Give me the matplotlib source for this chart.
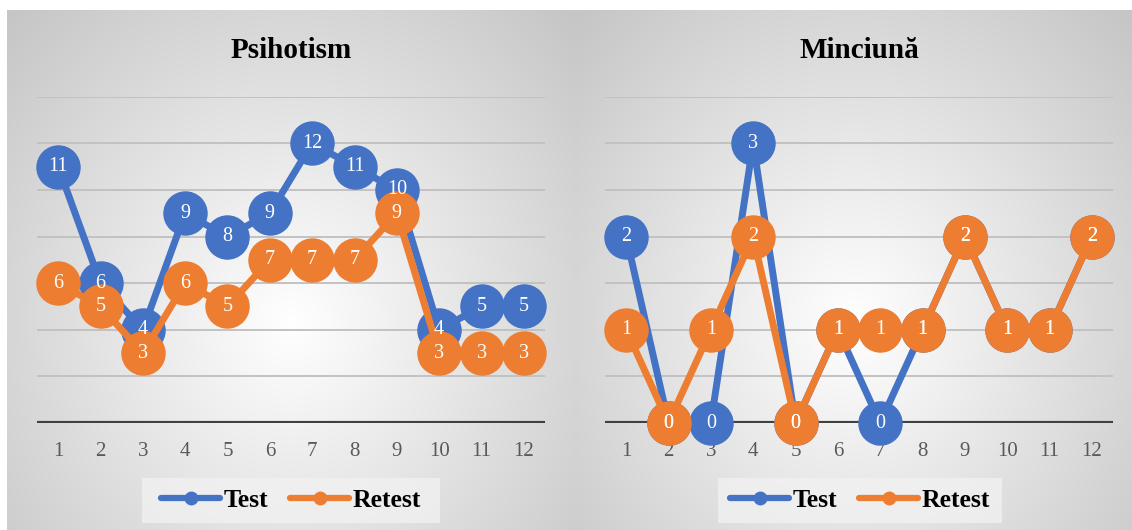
import numpy as np
import matplotlib
matplotlib.use("Agg")
import matplotlib.pyplot as plt
from matplotlib.lines import Line2D
from matplotlib.patches import Rectangle

# ---- data ----
categories = [str(i) for i in range(1, 13)]
series_names = ["Test", "Retest"]
titles = ["Psihotism", "Minciună"]
psihotism_test = [11, 6, 4, 9, 8, 9, 12, 11, 10, 4, 5, 5]
psihotism_retest = [6, 5, 3, 6, 5, 7, 7, 7, 9, 3, 3, 3]
minciuna_test = [2, 0, 0, 3, 0, 1, 0, 1, 2, 1, 1, 2]
minciuna_retest = [1, 0, 1, 2, 0, 1, 1, 1, 2, 1, 1, 2]

BLUE = "#4472C4"
ORANGE = "#ED7D31"
SERIF = ["Liberation Serif", "DejaVu Serif"]

W, H = 1132, 530
fig = plt.figure(figsize=(W / 100, H / 100), dpi=100)
fig.patch.set_facecolor("white")


def px_rect(x0, y0, x1, y1):
    return [x0 / W, 1 - y1 / H, (x1 - x0) / W, (y1 - y0) / H]


def panel_background(x0, y0, x1, y1):
    """Radial grey-to-white fill behind one chart."""
    ax = fig.add_axes(px_rect(x0, y0, x1, y1), zorder=0)
    w, h = x1 - x0, y1 - y0
    X, Y = np.meshgrid(np.arange(w) + 0.5, np.arange(h) + 0.5)
    cx, cy = w * 0.5, h * 0.6
    d = np.sqrt(((X - cx) / (w * 0.5)) ** 2 + ((Y - cy) / (h * 0.6)) ** 2) / np.sqrt(2)
    d = np.clip(d, 0, 1)
    c = (255 - 58 * d) / 255.0
    ax.imshow(np.dstack([c, c, c]), aspect="auto", interpolation="bilinear",
              extent=[0, 1, 0, 1], origin="upper")
    ax.set_axis_off()


def draw_chart(plot_px, title, title_x, legend_box, test, retest, ymax, ystep):
    ax = fig.add_axes(px_rect(*plot_px), zorder=2)
    ax.patch.set_alpha(0)
    x = np.arange(1, len(categories) + 1)
    ax.set_xlim(0.5, len(categories) + 0.5)
    ax.set_ylim(0, ymax)

    for gy in np.arange(ystep, ymax + ystep / 2, ystep):
        ax.axhline(gy, color="#c2c2c2", lw=1.4, zorder=1)
    ax.axhline(0, color="#404040", lw=3.0, zorder=2)

    for vals, col, z in ((test, BLUE, 3), (retest, ORANGE, 4)):
        ax.plot(x, vals, color=col, lw=5, marker="o", markersize=32,
                markeredgewidth=0, solid_capstyle="round", zorder=z, clip_on=False)
    for vals in (test, retest):
        for xi, v in zip(x, vals):
            ax.text(xi, v, str(v), ha="center", va="center", color="white",
                    fontsize=14.5, family=SERIF, zorder=10, clip_on=False)

    for s in ax.spines.values():
        s.set_visible(False)
    ax.set_yticks([])
    ax.set_xticks(x)
    ax.set_xticklabels(categories, fontsize=15, family=SERIF, color="#595959")
    ax.tick_params(axis="x", length=0, pad=14)

    fig.text(title_x / W, 1 - 58 / H, title, ha="center", va="baseline",
             fontsize=21, fontweight="bold", family=SERIF, color="black")

    # legend panel
    bx0, by0, bx1, by1 = legend_box
    fig.patches.append(Rectangle((bx0 / W, 1 - by1 / H), (bx1 - bx0) / W, (by1 - by0) / H,
                                 transform=fig.transFigure, facecolor="#f2f2f2",
                                 alpha=0.75, edgecolor="none", zorder=4))
    handles = [Line2D([], [], color=c, lw=4.5, marker="o", markersize=10,
                      markeredgewidth=0, solid_capstyle="round")
               for c in (BLUE, ORANGE)]
    leg = fig.legend(handles, series_names, loc="center",
                     bbox_to_anchor=((bx0 + bx1) / 2 / W, 1 - (by0 + by1) / 2 / H),
                     ncol=2, frameon=False, handlelength=2.3, handletextpad=0.12,
                     columnspacing=0.85, borderpad=0.3, borderaxespad=0,
                     prop={"family": SERIF, "weight": "bold", "size": 18.5})
    leg.set_zorder(5)


panel_background(7, 10, 575, 530)
panel_background(576, 10, 1132, 530)

draw_chart((37, 96.7, 545, 423), titles[0], 291, (142, 478, 440, 523),
           psihotism_test, psihotism_retest, 14, 2)
draw_chart((605, 96.7, 1113, 423), titles[1], 859, (718, 478, 1002, 523),
           minciuna_test, minciuna_retest, 3.5, 0.5)

fig.savefig("out.png", dpi=100, facecolor="white")
